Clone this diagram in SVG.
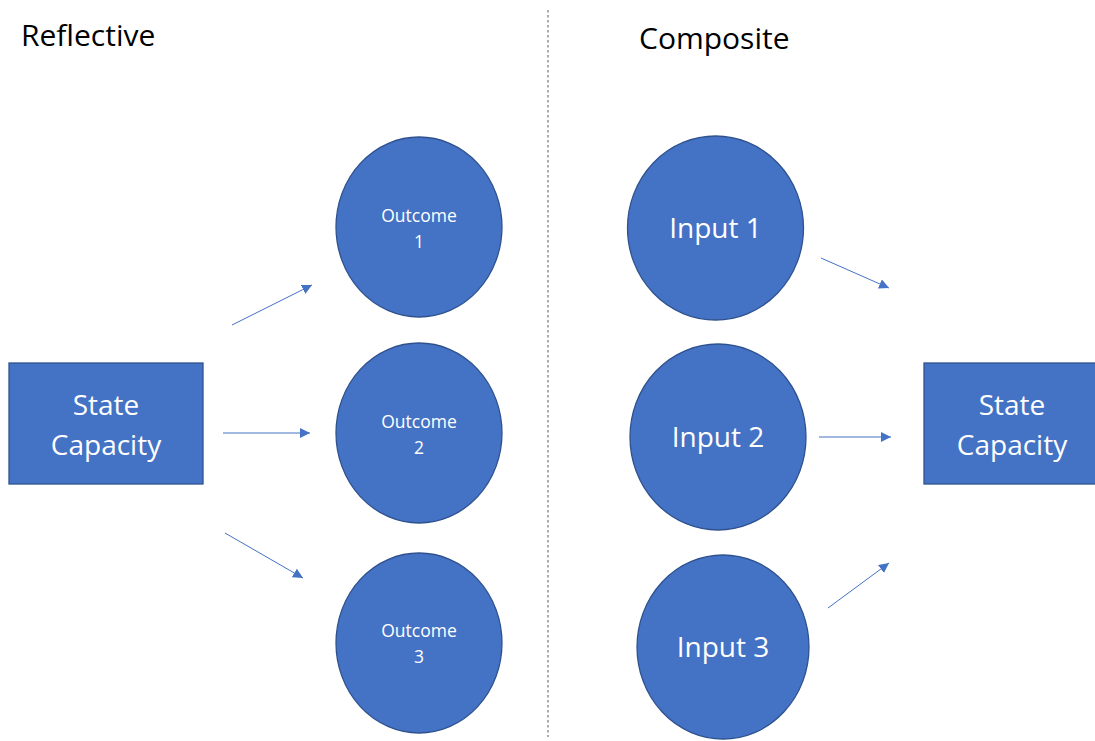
<svg xmlns="http://www.w3.org/2000/svg" width="1095" height="741" viewBox="0 0 1095 741">
<style>
.shape{fill:#4472C4;stroke:#2F528F;stroke-width:1.3}
.t{fill:#fff;font-family:"Open Sans","Liberation Sans",sans-serif;text-anchor:middle}
.s{font-size:17.5px}
.m{font-size:28px}
.h{fill:#000;font-family:"Open Sans","Liberation Sans",sans-serif;font-size:30px}
.c{stroke:#4472C4;stroke-width:1;fill:none;marker-end:url(#ah)}
</style>
<defs>
<marker id="ah" viewBox="0 0 10 10" refX="10" refY="5" markerWidth="10" markerHeight="10" markerUnits="userSpaceOnUse" orient="auto">
<path d="M0,0 L10,5 L0,10 z" fill="#4472C4"/>
</marker>
</defs>
<rect width="1095" height="741" fill="#fff"/>
<line x1="548" y1="10" x2="548" y2="737" stroke="#7f7f7f" stroke-width="1.3" stroke-dasharray="2.5,2.5"/>
<text class="h" x="21" y="46">Reflective</text>
<text class="h" x="639" y="49">Composite</text>
<g id="left-state">
<rect class="shape" x="9" y="363" width="194" height="121"/>
<text class="t m" x="106" y="415">State</text>
<text class="t m" x="106" y="455">Capacity</text>
</g>
<g id="outcome1">
<ellipse class="shape" cx="419" cy="227" rx="83" ry="90"/>
<text class="t s" x="419" y="222">Outcome</text>
<text class="t s" x="419" y="248">1</text>
</g>
<g id="outcome2">
<ellipse class="shape" cx="419" cy="433" rx="83" ry="90"/>
<text class="t s" x="419" y="428">Outcome</text>
<text class="t s" x="419" y="454">2</text>
</g>
<g id="outcome3">
<ellipse class="shape" cx="419" cy="643" rx="83" ry="90"/>
<text class="t s" x="419" y="637">Outcome</text>
<text class="t s" x="419" y="663">3</text>
</g>
<g id="input1">
<ellipse class="shape" cx="715.5" cy="228" rx="88" ry="92"/>
<text class="t m" x="715.5" y="238">Input 1</text>
</g>
<g id="input2">
<ellipse class="shape" cx="718" cy="437" rx="88" ry="93"/>
<text class="t m" x="718" y="447">Input 2</text>
</g>
<g id="input3">
<ellipse class="shape" cx="723" cy="647" rx="86" ry="92"/>
<text class="t m" x="723" y="657">Input 3</text>
</g>
<g id="right-state">
<rect class="shape" x="924" y="363" width="175" height="121"/>
<text class="t m" x="1012" y="415">State</text>
<text class="t m" x="1012" y="455">Capacity</text>
</g>
<g id="connectors">
<line class="c" x1="232" y1="325" x2="312" y2="285"/>
<line class="c" x1="223" y1="433" x2="310" y2="433"/>
<line class="c" x1="225" y1="533" x2="303" y2="578"/>
<line class="c" x1="821" y1="258" x2="889" y2="288"/>
<line class="c" x1="819" y1="437" x2="891" y2="437"/>
<line class="c" x1="828" y1="608" x2="889" y2="563"/>
</g>
</svg>
